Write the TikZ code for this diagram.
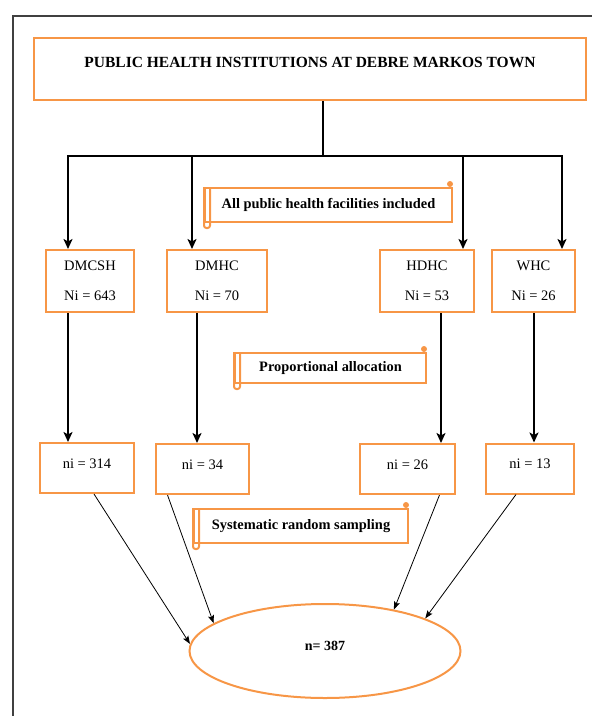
\documentclass[tikz,border=0pt]{standalone}
\usepackage{fontspec}
\setmainfont{Liberation Serif}
\usetikzlibrary{arrows.meta,shapes.geometric}
\definecolor{boxorange}{RGB}{247,150,70}

\begin{document}
\begin{tikzpicture}[x=1pt,y=-1pt,
	orangebox/.style={draw=boxorange,line width=2pt,inner sep=0pt},
	facility/.style={orangebox,minimum height=62pt,align=center,font=\fontsize{14.5}{30}\selectfont},
	sample/.style={orangebox,minimum height=50pt,text height=10pt,text depth=10pt,font=\fontsize{14.5}{17}\selectfont},
	scrollnote/.style={orangebox,minimum height=34pt,font=\bfseries\fontsize{14.4}{17}\selectfont},
	feed/.style={line width=2.2pt,-{Stealth[length=10pt,width=9pt,inset=2.5pt]}},
	thinfeed/.style={line width=0.8pt,-{Stealth[length=8pt,width=6pt,inset=1.5pt]}}]
			\path[use as bounding box] (0,0) rectangle (592,716);
			\draw[black!75,line width=1.2pt] (13,716) -- (13,16) -- (592,16);
			
			% institutions
			\node[orangebox,minimum width=552pt,minimum height=62pt,text height=10pt,text depth=14pt,
				font=\bfseries\fontsize{15.5}{18}\selectfont] (town) at (310,69) {PUBLIC HEALTH INSTITUTIONS AT DEBRE MARKOS TOWN};
			
			\node[facility,minimum width=88pt] (dmcsh) at (90,281) {DMCSH\\Ni = 643};
			\node[facility,minimum width=100pt] (dmhc) at (217,281) {DMHC\\Ni = 70};
			\node[facility,minimum width=94pt] (hdhc) at (427,281) {HDHC\\Ni = 53};
			\node[facility,minimum width=83pt] (whc) at (533.5,281) {WHC\\Ni = 26};
			
			\node[sample,minimum width=94pt] (ni1) at (87,468) {ni = 314};
			\node[sample,minimum width=93pt] (ni2) at (202.5,469) {ni = 34};
			\node[sample,minimum width=95pt] (ni3) at (407.5,469) {ni = 26};
			\node[sample,minimum width=88pt] (ni4) at (530,468.5) {ni = 13};
			
			\node[orangebox,ellipse,minimum width=271pt,minimum height=94pt,text height=10pt,text depth=12pt,
				font=\bfseries\fontsize{14}{17}\selectfont] (total) at (325,651) {n= 387};
			
			% notes
			\node[scrollnote,minimum width=247pt] (note1) at (328.5,205) {All public health facilities included};
			\node[scrollnote,minimum width=191pt,minimum height=30pt] (note2) at (330.5,368) {Proportional allocation};
			\node[scrollnote,minimum width=214pt] (note3) at (301,526) {Systematic random sampling};
			\foreach \n in {note1,note2,note3}{
				\fill[boxorange] ([xshift=-3pt,yshift=3pt]\n.north east) circle (3pt);
				\draw[boxorange,line width=2pt,rounded corners=2.5pt] (\n.north west) -- ([yshift=-5pt]\n.south west)
					-- ([xshift=6pt,yshift=-5pt]\n.south west) -- ([xshift=6pt]\n.north west);
			}
			
			% branches
			\coordinate (stem) at (323,156);
			\coordinate (j1) at (68,156);
			\coordinate (j2) at (192,156);
			\coordinate (j3) at (463,156);
			\coordinate (j4) at (562,156);
			\draw[line width=2.2pt] (stem |- town.south) -- (stem);
			\draw[line width=2.2pt,line cap=rect] (j1) -- (j4);
			\foreach \j/\b in {j1/dmcsh,j2/dmhc,j3/hdhc,j4/whc}
				\draw[feed] (\j) -- (\j |- \b.north);
			
			\coordinate (s1) at ([xshift=-22pt]dmcsh.south);
			\coordinate (s2) at ([xshift=-20pt]dmhc.south);
			\coordinate (s3) at ([xshift=14pt]hdhc.south);
			\coordinate (s4) at ([xshift=0.5pt]whc.south);
			\foreach \s/\c in {s1/ni1,s2/ni2,s3/ni3,s4/ni4}
				\draw[feed] (\s) -- (\s |- \c.north);
			
			\coordinate (t1) at ([xshift=7pt]ni1.south);
			\coordinate (t2) at ([xshift=-35pt]ni2.south);
			\coordinate (t3) at ([xshift=32pt]ni3.south);
			\coordinate (t4) at ([xshift=-14pt]ni4.south);
			\draw[thinfeed] (t1) -- (total.177);
			\draw[thinfeed] (t2) -- (total.166);
			\draw[thinfeed] (t3) -- (total.31);
			\draw[thinfeed] (t4) -- (total.18);
		\end{tikzpicture}
\end{document}
